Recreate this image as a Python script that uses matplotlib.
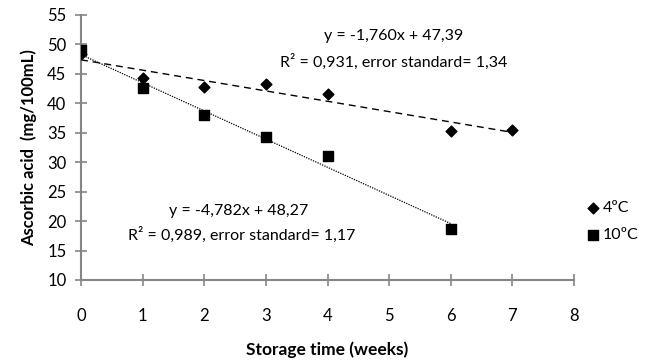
import matplotlib
matplotlib.use("Agg")
import matplotlib.pyplot as plt
import numpy as np

plt.rcParams['font.family'] = ['Lato', 'DejaVu Sans']

weeks_4 = [0, 1, 2, 3, 4, 6, 7]
acid_4 = [48.4, 44.3, 42.7, 43.2, 41.5, 35.3, 35.5]
weeks_10 = [0, 1, 2, 3, 4, 6]
acid_10 = [49.1, 42.6, 38.1, 34.2, 31.1, 18.7]

slope_4, icpt_4 = -1.760, 47.39
slope_10, icpt_10 = -4.782, 48.27

x_ticks = [0, 1, 2, 3, 4, 5, 6, 7, 8]
y_ticks = [10, 15, 20, 25, 30, 35, 40, 45, 50, 55]

fig = plt.figure(figsize=(6.47, 3.64), dpi=100)
ax = fig.add_axes([0.1252, 0.2308, 0.762, 0.728])

ax.scatter(weeks_4, acid_4, marker='D', s=30, color='black', zorder=3, label='4ºC')
ax.scatter(weeks_10, acid_10, marker='s', s=55, color='black', zorder=3, label='10ºC')

xl = np.array([0, 7])
ax.plot(xl, slope_4 * xl + icpt_4, color='black', lw=1.0, ls=(0, (5, 3.5)), zorder=2)
xl = np.array([0, 6])
ax.plot(xl, slope_10 * xl + icpt_10, color='black', lw=0.9, ls=(0, (1, 1)), zorder=2)

fs = 11.5
ax.text(5.07, 51.4, 'y = -1,760x + 47,39', ha='center', va='center', fontsize=fs)
ax.text(5.07, 47.1, 'R² = 0,931, error standard= 1,34', ha='center', va='center', fontsize=fs)
ax.text(2.55, 21.8, 'y = -4,782x + 48,27', ha='center', va='center', fontsize=fs)
ax.text(2.6, 17.6, 'R² = 0,989, error standard= 1,17', ha='center', va='center', fontsize=fs)

ax.set_xlim(0, 8)
ax.set_ylim(10, 55)
ax.set_xticks(x_ticks)
ax.set_yticks(y_ticks)
for s in ['top', 'right']:
    ax.spines[s].set_visible(False)
for s in ['left', 'bottom']:
    ax.spines[s].set_color('#868686')
    ax.spines[s].set_linewidth(1.5)
ax.tick_params(axis='both', direction='inout', length=9, width=1.2, color='#868686',
               labelsize=12)
ax.tick_params(axis='x', pad=16)
ax.tick_params(axis='y', pad=6)

ax.set_xlabel('Storage time (weeks)', fontsize=12.5, fontweight='bold', labelpad=12)
ax.set_ylabel('Ascorbic acid  (mg/100mL)', fontsize=12, fontweight='bold', labelpad=7)

ax.legend(loc='center left', bbox_to_anchor=(1.0, 0.22), frameon=False, fontsize=11.5,
          handletextpad=0.1, labelspacing=0.8, handlelength=1.0, borderaxespad=0.3)

fig.savefig('out.png', dpi=100)
